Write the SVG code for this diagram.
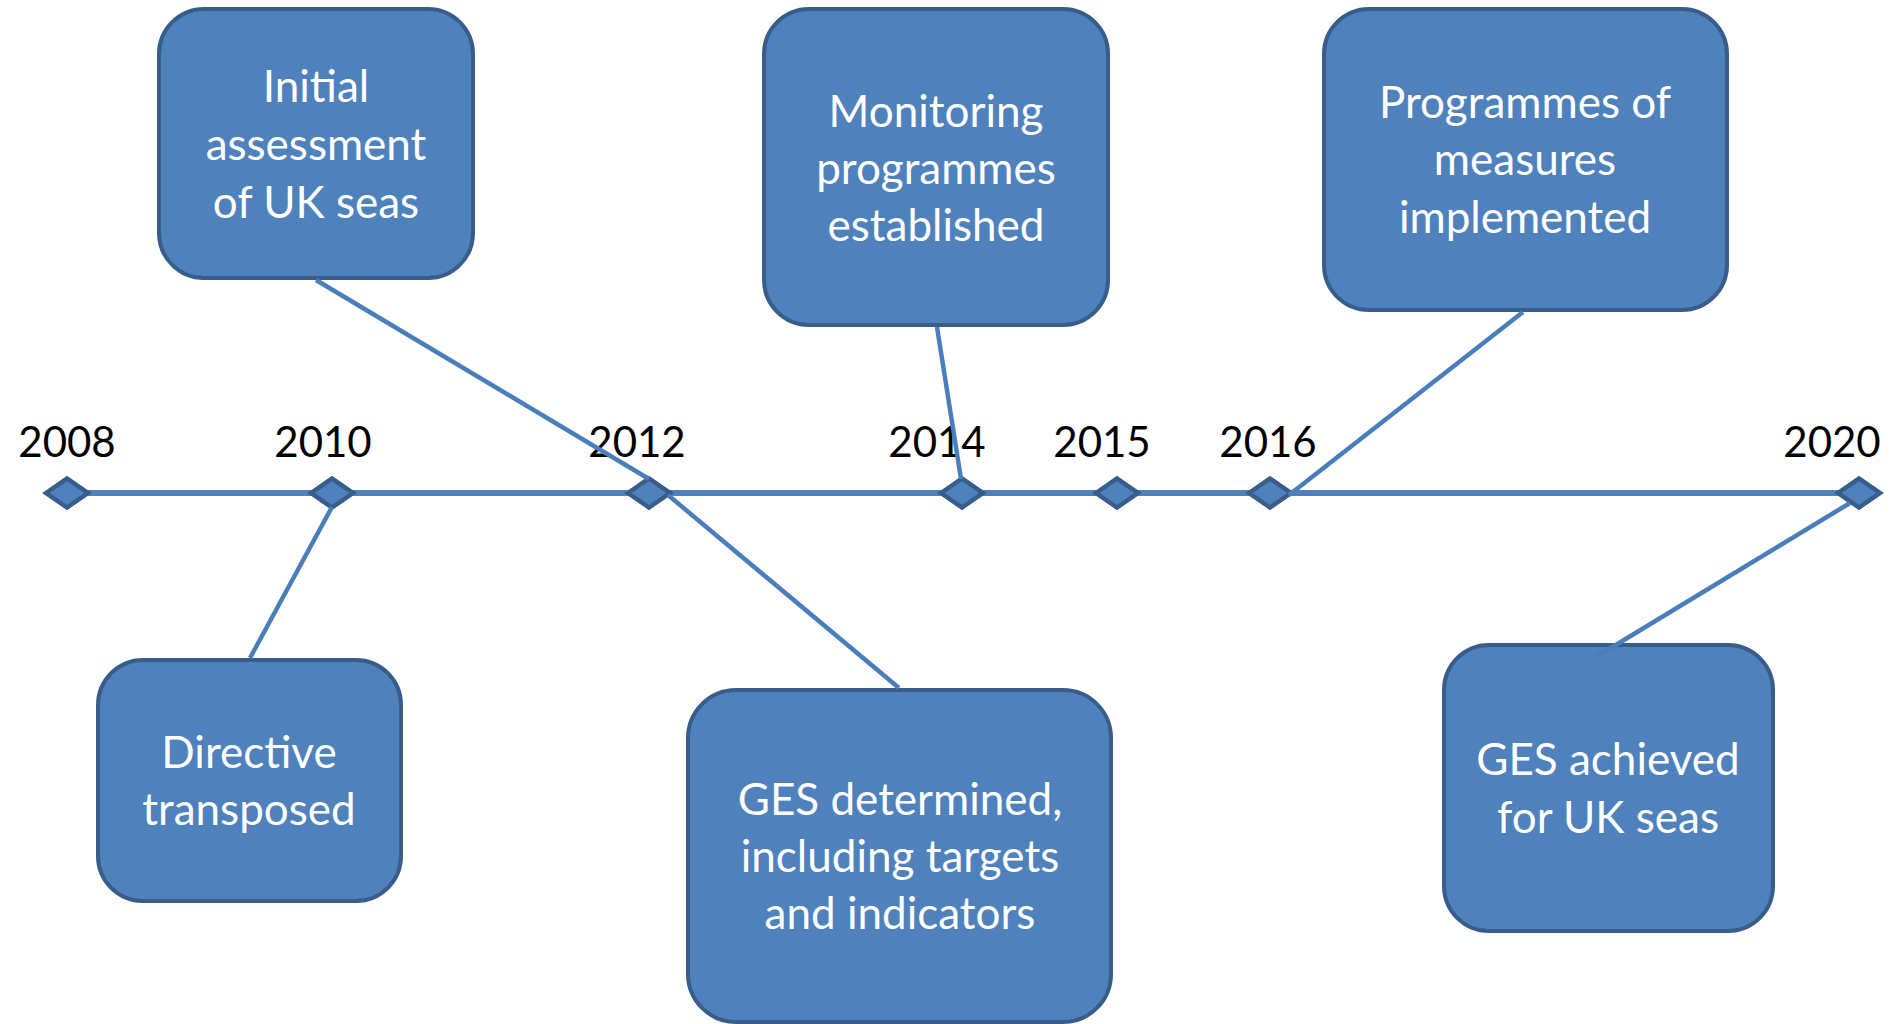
<svg xmlns="http://www.w3.org/2000/svg" width="1893" height="1024" viewBox="0 0 1893 1024">
<style>
.box{fill:#4F81BD;stroke:#385D8A;stroke-width:4}
.bt{font-family:Lato,"Liberation Sans",sans-serif;font-size:44px;fill:#FFFFFF;text-anchor:middle}
.yr{font-family:Lato,"Liberation Sans",sans-serif;font-size:42px;fill:#000000;text-anchor:middle}
.dm{fill:#4F81BD;stroke:#385D8A;stroke-width:4.5;stroke-linejoin:miter}
.cn{stroke:#4A7EBB;stroke-width:4.5;fill:none}
</style>
<defs>
<path id="dia" d="M-21 0 L0 -14.5 L21 0 L0 14.5 Z"/>
</defs>
<rect width="1893" height="1024" fill="#FFFFFF"/>
<g id="timeline">
<line x1="67" y1="493" x2="1859" y2="493" stroke="#4F81BD" stroke-width="6"/>
</g>
<g id="markers">
<g id="m2008"><text class="yr" x="67" y="457">2008</text><use href="#dia" class="dm" x="67" y="493"/></g>
<g id="m2010"><text class="yr" x="323" y="457">2010</text><use href="#dia" class="dm" x="332" y="493"/></g>
<g id="m2012"><text class="yr" x="637" y="457">2012</text><use href="#dia" class="dm" x="649" y="493"/></g>
<g id="m2014"><text class="yr" x="937" y="457">2014</text><use href="#dia" class="dm" x="962" y="493"/></g>
<g id="m2015"><text class="yr" x="1102" y="457">2015</text><use href="#dia" class="dm" x="1117" y="493"/></g>
<g id="m2016"><text class="yr" x="1268" y="457">2016</text><use href="#dia" class="dm" x="1270" y="493"/></g>
<g id="m2020"><text class="yr" x="1832" y="457">2020</text><use href="#dia" class="dm" x="1859" y="493"/></g>
</g>
<g id="n-initial">
<rect class="box" x="159" y="9" width="314" height="269" rx="45"/>
<text class="bt" x="316" y="102">Initial</text>
<text class="bt" x="316" y="160">assessment</text>
<text class="bt" x="316" y="218">of UK seas</text>
</g>
<g id="n-monitoring">
<rect class="box" x="764" y="9" width="344" height="316" rx="45"/>
<text class="bt" x="936" y="127">Monitoring</text>
<text class="bt" x="936" y="184">programmes</text>
<text class="bt" x="936" y="241">established</text>
</g>
<g id="n-measures">
<rect class="box" x="1324" y="9" width="403" height="301" rx="45"/>
<text class="bt" x="1525" y="118">Programmes of</text>
<text class="bt" x="1525" y="175">measures</text>
<text class="bt" x="1525" y="233">implemented</text>
</g>
<g id="n-directive">
<rect class="box" x="98" y="660" width="303" height="241" rx="45"/>
<text class="bt" x="249" y="768">Directive</text>
<text class="bt" x="249" y="825">transposed</text>
</g>
<g id="n-ges-determined">
<rect class="box" x="688" y="690" width="423" height="332" rx="48"/>
<text class="bt" x="900" y="815">GES determined,</text>
<text class="bt" x="900" y="872">including targets</text>
<text class="bt" x="900" y="929">and indicators</text>
</g>
<g id="n-ges-achieved">
<rect class="box" x="1444" y="645" width="329" height="286" rx="45"/>
<text class="bt" x="1608" y="775">GES achieved</text>
<text class="bt" x="1608" y="833">for UK seas</text>
</g>
<g id="connectors">
<line class="cn" x1="316" y1="280" x2="649" y2="479"/>
<line class="cn" x1="668" y1="495" x2="899" y2="688"/>
<line class="cn" x1="332" y1="507" x2="250" y2="658"/>
<line class="cn" x1="937" y1="327" x2="961" y2="479"/>
<line class="cn" x1="1523" y1="312" x2="1289" y2="495"/>
<line class="cn" x1="1850" y1="503" x2="1596" y2="657"/>
</g>
</svg>
